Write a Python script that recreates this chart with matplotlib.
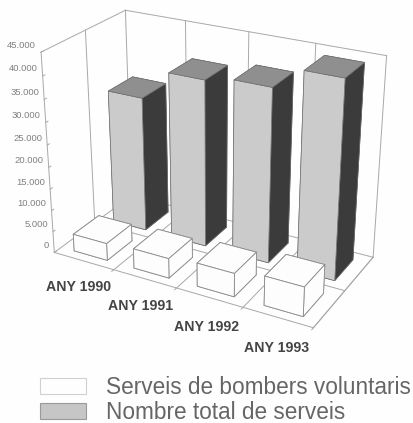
import matplotlib
matplotlib.use('Agg')
import matplotlib.pyplot as plt
from matplotlib.patches import Patch
from mpl_toolkits.mplot3d import proj3d

years = ['ANY 1990', 'ANY 1991', 'ANY 1992', 'ANY 1993']
voluntaris = [4000, 4550, 5350, 6650]
total = [31200, 38050, 39300, 44000]
z_ticks = [0, 5000, 10000, 15000, 20000, 25000, 30000, 35000, 40000, 45000]
z_labels = ['0', '5.000', '10.000', '15.000', '20.000', '25.000', '30.000', '35.000', '40.000', '45.000']
legend_names = ['Serveis de bombers voluntaris', 'Nombre total de serveis']

LINE = '#a8a8a8'
PX = 72 / 100


def line(ax, a, b, color=LINE, lw=0.7):
    ax.plot([a[0], b[0]], [a[1], b[1]], [a[2], b[2]], color=color, lw=lw, zorder=1)


def draw_walls(ax):
    top = z_ticks[-1]
    line(ax, (0, 0, 0), (4, 0, 0))
    line(ax, (0, 0, 0), (0, 1, 0))
    line(ax, (4, 0, 0), (4, 1, 0))
    line(ax, (0, 1, 0), (4, 1, 0))
    line(ax, (0, 0, top), (0, 1, top))
    line(ax, (0, 1, top), (4, 1, top))
    line(ax, (0, 0, 0), (0, 0, top))
    line(ax, (4, 1, 0), (4, 1, top))
    # divisions de cada any i la meitat de la paret
    for i in range(4):
        line(ax, (i, 1, 0), (i, 1, top))
        line(ax, (i + 1, -0.025, 0), (i + 1, 1, 0))
    line(ax, (0, 0.5, 0), (0, 0.5, top))
    line(ax, (0, 0.5, 0), (4, 0.5, 0))
    for z in z_ticks:
        line(ax, (0, 0, z), (0, 0.025, z))


def draw_bars(ax):
    edge = '#707070'
    # faces: bottom, top, front, back, left, right
    total_colors = ['#3a3a3a', '#8f8f8f', '#cbcbcb', '#3a3a3a', '#cbcbcb', '#3b3b3b']
    vol_colors = ['#fdfdfd'] * 6
    for i in range(4):
        ax.bar3d(i + 0.22, 0.585, 0, 0.56, 0.315, total[i], color=total_colors,
                 edgecolor=edge, linewidth=0.5, shade=False, zorder=2 + i)
    for i in range(4):
        ax.bar3d(i + 0.22, 0.085, 0, 0.56, 0.315, voluntaris[i], color=vol_colors,
                 edgecolor='#8a8a8a', linewidth=0.6, shade=False, zorder=10 + i)


def label_at(ax, x, y, z, text, dx, dy, **kw):
    xp, yp, _ = proj3d.proj_transform(x, y, z, ax.get_proj())
    ax.annotate(text, (xp, yp), xytext=(dx * PX, dy * PX), textcoords='offset points',
                annotation_clip=False, **kw)


def main():
    plt.rcParams['font.family'] = ['Liberation Sans', 'DejaVu Sans']
    fig = plt.figure(figsize=(4.14, 4.23), dpi=100, facecolor='#fefefe')
    ax = fig.add_axes([0.0346, 0.1556, 0.9351, 0.9351 * 414 / 423], projection='3d')
    ax.computed_zorder = False
    ax.patch.set_alpha(0)
    ax.view_init(24.925, -61.3007)
    ax.set_proj_type('persp', focal_length=0.5542)
    ax.set_box_aspect((1.3365, 0.68, 1))
    ax.set_axis_off()

    draw_walls(ax)
    draw_bars(ax)
    ax.set_xlim(0, 4)
    ax.set_ylim(0, 1)
    ax.set_zlim(0, 45000)

    for z, text in zip(z_ticks, z_labels):
        label_at(ax, 0, 0, z, text, -5, 7, ha='right', va='center', fontsize=6.8,
                 color='#808080')
    for i, text in enumerate(years):
        label_at(ax, i + 0.5, 0, 0, text, -5 + i * 1.3, -26 - i * 1.5, ha='center', va='center',
                 fontsize=10.2, fontweight='bold', color='#444444')

    handles = [Patch(facecolor='#fefefe', edgecolor='#d0d0d0', lw=0.8),
               Patch(facecolor='#c6c6c6', edgecolor='#9a9a9a', lw=0.8)]
    fig.legend(handles, legend_names, loc='upper left', bbox_to_anchor=(40 / 414, 1 - 376 / 423),
               frameon=False, fontsize=16.3, labelcolor='#666666', borderpad=0, borderaxespad=0,
               handlelength=2.03, handleheight=0.72, handletextpad=0.88, labelspacing=0.1)

    fig.savefig('out.png', dpi=100, facecolor=fig.get_facecolor())


main()
